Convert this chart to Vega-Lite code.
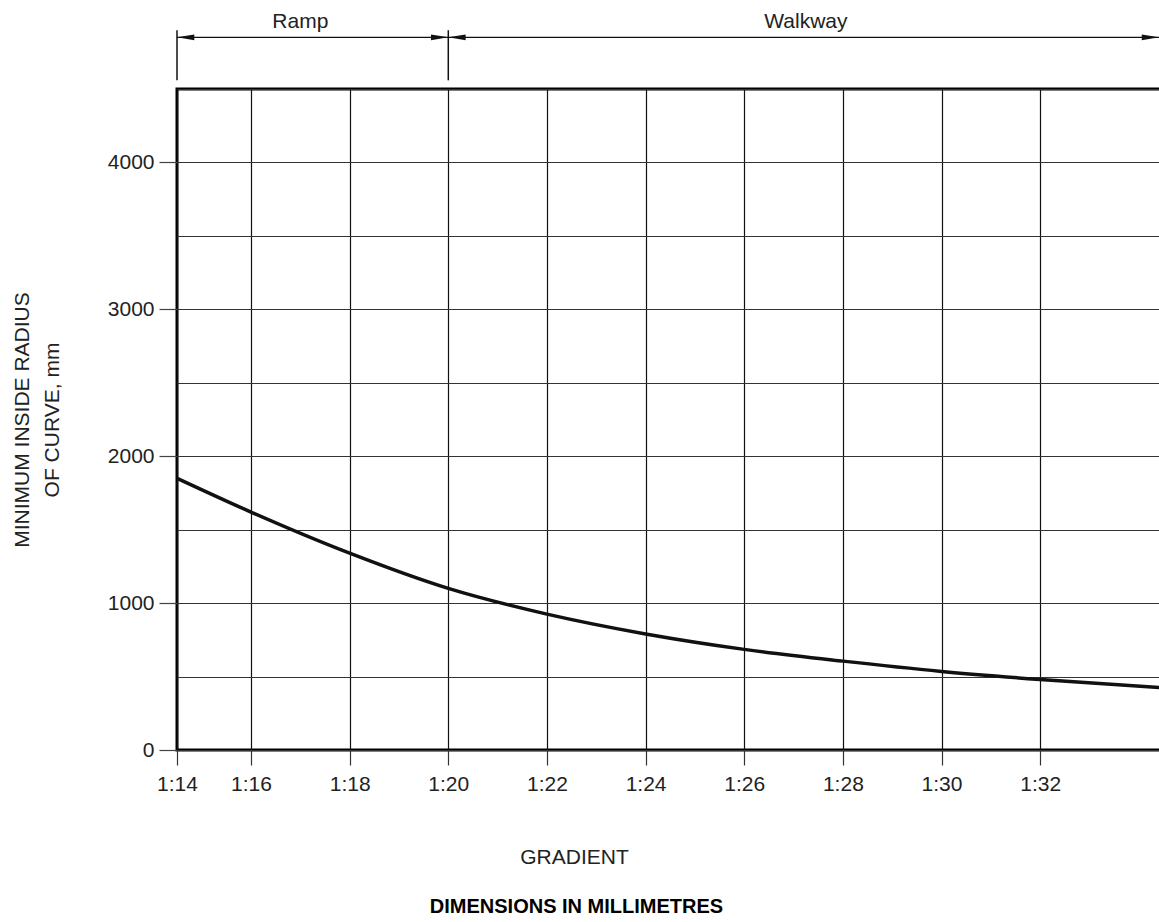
{
  "$schema": "https://vega.github.io/schema/vega-lite/v6.json",
  "width": 985,
  "height": 661,
  "autosize": {"type": "none"},
  "padding": {"left": 177, "top": 89, "right": 0, "bottom": 172},
  "background": "white",
  "config": {
    "font": "Liberation Sans",
    "view": {"stroke": "black", "strokeWidth": 3}
  },
  "title": {
    "text": "DIMENSIONS IN MILLIMETRES",
    "orient": "bottom",
    "anchor": "middle",
    "fontWeight": "bold",
    "fontSize": 20,
    "color": "black",
    "dx": -93,
    "offset": 30
  },
  "layer": [
    {
      "data": {
        "values": [
          {"g": 14, "r": 1850},
          {"g": 16, "r": 1620},
          {"g": 18, "r": 1340},
          {"g": 20, "r": 1100},
          {"g": 22, "r": 925},
          {"g": 24, "r": 790},
          {"g": 26, "r": 685},
          {"g": 28, "r": 605},
          {"g": 30, "r": 535},
          {"g": 32, "r": 480},
          {"g": 34.41, "r": 425}
        ]
      },
      "mark": {"type": "line", "color": "#111", "strokeWidth": 3.5, "interpolate": "monotone"},
      "encoding": {
        "x": {
          "field": "g",
          "type": "quantitative",
          "scale": {"domain": [14, 16, 34.47], "range": [0, 74, 985], "nice": false, "zero": false},
          "axis": {
            "title": "GRADIENT",
            "values": [14, 16, 18, 20, 22, 24, 26, 28, 30, 32],
            "labelExpr": "'1:' + datum.value",
            "domain": false,
            "grid": true,
            "gridColor": "#111",
            "gridWidth": 1.2,
            "gridOpacity": 1,
            "ticks": true,
            "tickColor": "#333",
            "tickSize": 15,
            "tickWidth": 1.2,
            "labelFontSize": 21,
            "labelColor": "#222",
            "labelPadding": 8,
            "labelFlush": false,
            "titleFontSize": 21,
            "titleFontWeight": "normal",
            "titleColor": "#222",
            "titleX": 397,
            "titleY": 113,
            "titleBaseline": "alphabetic"
          }
        },
        "y": {
          "field": "r",
          "type": "quantitative",
          "scale": {"domain": [0, 4500], "nice": false, "zero": true},
          "axis": {
            "title": ["MINIMUM INSIDE RADIUS", "OF CURVE, mm"],
            "values": [0, 500, 1000, 1500, 2000, 2500, 3000, 3500, 4000, 4500],
            "format": "d",
            "labelExpr": "datum.value % 1000 === 0 && datum.value < 4500 ? datum.label : ''",
            "domain": false,
            "grid": true,
            "gridColor": "#333",
            "gridWidth": 1.2,
            "gridOpacity": 1,
            "ticks": true,
            "tickColor": "#444",
            "tickSize": 18,
            "tickWidth": 1.2,
            "tickOpacity": {"expr": "datum.value % 1000 === 0 && datum.value < 4500 ? 1 : 0"},
            "labelFontSize": 21,
            "labelColor": "#222",
            "labelPadding": 5,
            "titleFontSize": 21,
            "titleFontWeight": "normal",
            "titleColor": "#222",
            "titleLineHeight": 30,
            "titleX": -155,
            "titleBaseline": "middle"
          }
        }
      }
    },
    {
      "data": {"values": [{"g": 14}, {"g": 20}]},
      "mark": {"type": "rule", "color": "#111", "strokeWidth": 1.5},
      "encoding": {
        "x": {"field": "g", "type": "quantitative"},
        "y": {"datum": 4559, "type": "quantitative"},
        "y2": {"datum": 4900}
      }
    },
    {
      "data": {"values": [{"g": 14, "g2": 20}, {"g": 20, "g2": 34.41}]},
      "mark": {"type": "rule", "color": "#111", "strokeWidth": 1.2},
      "encoding": {
        "x": {"field": "g", "type": "quantitative"},
        "x2": {"field": "g2"},
        "y": {"datum": 4852, "type": "quantitative"}
      }
    },
    {
      "data": {
        "values": [
          {"g": 14, "dir": "left"},
          {"g": 20, "dir": "right"},
          {"g": 20, "dir": "left"},
          {"g": 34.41, "dir": "right"}
        ]
      },
      "mark": {"type": "point", "filled": true, "color": "#111", "size": 300, "opacity": 1},
      "encoding": {
        "x": {"field": "g", "type": "quantitative"},
        "y": {"datum": 4852, "type": "quantitative"},
        "shape": {
          "field": "dir",
          "type": "nominal",
          "scale": {"domain": ["left", "right"], "range": ["M0,0L2,-0.33L2,0.33Z", "M0,0L-2,-0.33L-2,0.33Z"]},
          "legend": null
        }
      }
    },
    {
      "data": {"values": [{"g": 17, "t": "Ramp"}, {"g": 27.25, "t": "Walkway"}]},
      "mark": {"type": "text", "fontSize": 21, "color": "#222", "baseline": "alphabetic", "align": "center"},
      "encoding": {
        "x": {"field": "g", "type": "quantitative"},
        "y": {"datum": 4918, "type": "quantitative"},
        "text": {"field": "t"}
      }
    }
  ]
}
